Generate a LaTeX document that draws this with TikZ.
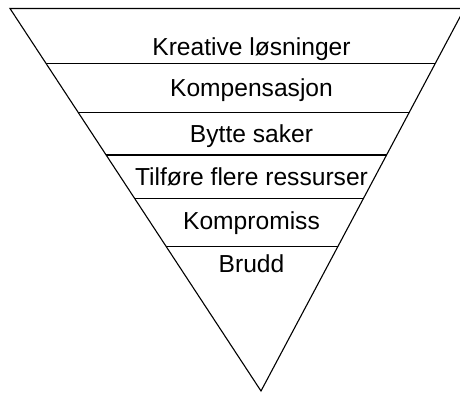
\documentclass[tikz,border=0pt]{standalone}
\usepackage{fontspec}
\setmainfont{Liberation Sans}
\usetikzlibrary{positioning}

\begin{document}
\begin{tikzpicture}[x=0.5pt, y=-0.5pt,
    tier/.style={font=\fontsize{12.3}{14}\selectfont, anchor=base, inner sep=0pt},
    edge/.style={line width=0.55pt, black}]
  \clip (0, 0) rectangle (460, 392);
  % funnel
  \coordinate (left) at (10, 8.5);
  \coordinate (right) at (464.5, 8.5);
  \coordinate (tip) at (261, 391);
  \draw [edge] (left) -- (right) -- (tip) -- cycle;
  % separators
  \begin{scope}
    \clip (left) -- (right) -- (tip) -- cycle;
    \foreach \y in {63.3, 112.3, 155, 198.3, 246.7}
      \draw [edge] (0, \y) -- (460, \y);
  \end{scope}
  % labels
  \foreach \y/\name/\txt in {55/kreative/Kreative løsninger, 96/kompensasjon/Kompensasjon,
      142.5/bytte/Bytte saker, 185/tilfore/Tilføre flere ressurser,
      229.5/kompromiss/Kompromiss, 272.5/brudd/Brudd}
    \node [tier] (\name) at (251.5, \y) {\txt};
\end{tikzpicture}
\end{document}
